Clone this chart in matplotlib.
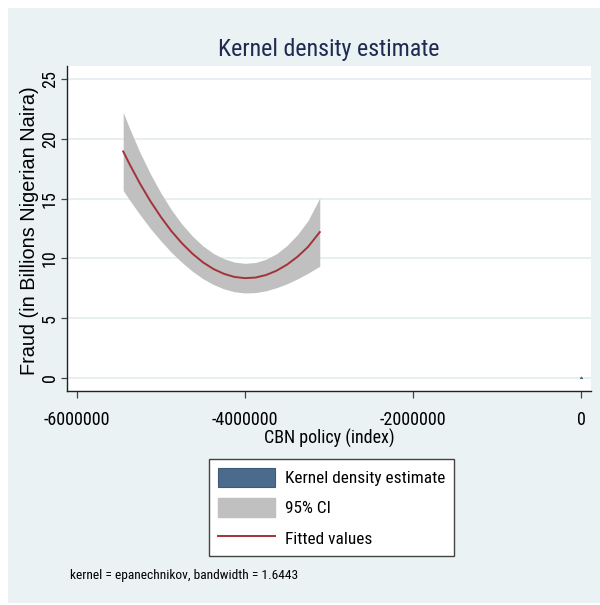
"""
Kernel density estimate / quadratic fit with 95% CI, Stata s2color look.
"""
import os
import matplotlib
matplotlib.use("Agg")
import matplotlib.pyplot as plt
from matplotlib.patches import Patch, Rectangle
from matplotlib.lines import Line2D
from matplotlib import font_manager

# ── data ─────────────────────────────────────────────────────────────────────
cbn_x = [-5450000, -5375000, -5250000, -5125000, -5000000, -4875000,
         -4750000, -4625000, -4500000, -4375000, -4250000, -4125000,
         -4000000, -3875000, -3750000, -3625000, -3500000, -3375000,
         -3250000, -3110000]
fitted = [18.94, 17.89, 16.25, 14.77, 13.45, 12.27, 11.26, 10.39, 9.67, 9.11,
          8.71, 8.45, 8.35, 8.40, 8.61, 8.97, 9.48, 10.14, 10.96, 12.2]
ci_hi = [22.21, 20.89, 18.85, 17.05, 15.45, 14.05, 12.86, 11.86, 11.04, 10.41,
         9.97, 9.69, 9.59, 9.66, 9.93, 10.39, 11.08, 11.99, 13.16, 15.05]
ci_lo = [15.67, 14.89, 13.65, 12.49, 11.45, 10.49, 9.66, 8.92, 8.30, 7.81,
         7.45, 7.21, 7.11, 7.14, 7.29, 7.55, 7.88, 8.29, 8.76, 9.35]

kde_x = [-12000, 0, 12000]
kde_y = [0.0, 0.12, 0.0]

x_ticks = [-6000000, -4000000, -2000000, 0]
y_ticks = [0, 5, 10, 15, 20, 25]


# ── fonts: look for an Arial-Narrow-like face ───────────────────────────────
def find_narrow():
    wanted = ["LiberationSansNarrow-Regular", "RobotoCondensed-Regular",
              "Roboto_Condensed-Regular", "DejaVuSansCondensed."]
    files = font_manager.findSystemFonts()
    for key in wanted:
        for f in files:
            if key.lower() in os.path.basename(f).lower():
                return f
    return None


NARROW_FILE = find_narrow()
SCALE = 1.0 if NARROW_FILE else 0.84


def nfont(size):
    if NARROW_FILE:
        return font_manager.FontProperties(fname=NARROW_FILE, size=size)
    return font_manager.FontProperties(family="Liberation Sans", size=size * SCALE)


BG = "#EAF2F3"
GRID = "#E3ECEF"
NAVY = "#4A6B8C"
CI_GRAY = "#C0C0C0"
FIT_RED = "#A3333A"

fig = plt.figure(figsize=(6, 6.05), dpi=100, facecolor="white")
fig.patches.append(Rectangle((8 / 600, 1 - 603 / 605), 592 / 600, 595 / 605,
                             transform=fig.transFigure, facecolor=BG,
                             edgecolor="none", zorder=-10))

ax = fig.add_axes([67 / 600, 1 - 391 / 605, 524 / 600, 325 / 605])
ax.set_facecolor("white")

ax.fill_between(kde_x, kde_y, color=NAVY, linewidth=0.8, edgecolor=NAVY, zorder=3)
ax.fill_between(cbn_x, ci_lo, ci_hi, color=CI_GRAY, linewidth=0, zorder=2)
ax.plot(cbn_x, fitted, color=FIT_RED, linewidth=1.4, zorder=4)

ax.set_xlim(-6119048, 119048)
ax.set_ylim(-1.083, 26.083)
ax.set_xticks(x_ticks)
ax.set_xticklabels([str(v) for v in x_ticks])
ax.set_yticks(y_ticks)
ax.set_yticklabels([str(v) for v in y_ticks], rotation=90, va="center")
for lbl in ax.get_xticklabels() + ax.get_yticklabels():
    lbl.set_fontproperties(nfont(13))
ax.tick_params(axis="x", length=5, width=0.9, color="#444444", pad=9.5)
ax.tick_params(axis="y", length=4.5, width=0.9, color="#444444", pad=1.5)

ax.grid(axis="y", color=GRID, linewidth=1.2, zorder=0)
ax.set_axisbelow(True)
for side in ("top", "right"):
    ax.spines[side].set_visible(False)
for side in ("left", "bottom"):
    ax.spines[side].set_color("#222222")
    ax.spines[side].set_linewidth(1.0)

fig.text(329 / 600, 1 - 56 / 605, "Kernel density estimate", ha="center",
         va="baseline", fontproperties=nfont(17.3), color="#1E2A52")
fig.text(329 / 600, 1 - 443.5 / 605, "CBN policy (index)", ha="center",
         va="baseline", fontproperties=nfont(13))
fig.text(30 / 600, 1 - 231 / 605, "Fraud (in Billions Nigerian Naira)",
         rotation=90, ha="center", va="center", fontfamily="Liberation Sans",
         fontsize=14.3)
fig.text(70 / 600, 1 - 579 / 605, "kernel = epanechnikov, bandwidth = 1.6443",
         ha="left", va="baseline", fontproperties=nfont(9.6))

handles = [
    Patch(facecolor=NAVY, edgecolor="#3D5A78", linewidth=0.8),
    Patch(facecolor=CI_GRAY, edgecolor=CI_GRAY),
    Line2D([], [], color=FIT_RED, linewidth=1.4),
]
labels = ["Kernel density estimate", "95% CI", "Fitted values"]
leg = fig.legend(handles, labels, loc="upper left",
                 bbox_to_anchor=(209 / 600, 1 - 459 / 605),
                 prop=nfont(12.4),
                 frameon=True, fancybox=False, framealpha=1,
                 edgecolor="#444444", facecolor="white",
                 handlelength=3.34, handleheight=1.3, handletextpad=0.55,
                 labelspacing=0.67, borderpad=0.52, borderaxespad=0)
leg.get_frame().set_linewidth(1.0)

fig.savefig("out.png", dpi=100)
